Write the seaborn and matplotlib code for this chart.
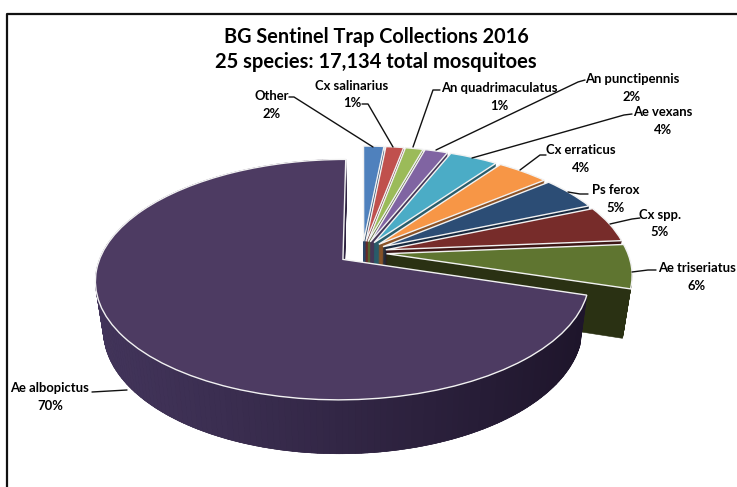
import numpy as np
import matplotlib
matplotlib.use("Agg")
import matplotlib.pyplot as plt
from matplotlib.transforms import Transform
from matplotlib.path import Path
from matplotlib.collections import PolyCollection
from matplotlib.colors import to_rgb
import seaborn as sns

# ---- data
species = ["Other", "Cx salinarius", "An quadrimaculatus", "An punctipennis", "Ae vexans",
           "Cx erraticus", "Ps ferox", "Cx spp.", "Ae triseriatus", "Ae albopictus"]
percent = [1.6, 1.4, 1.4, 1.8, 3.8, 4.1, 4.6, 5.0, 6.0, 70.3]
title_lines = ["BG Sentinel Trap Collections 2016", "25 species: 17,134 total mosquitoes"]

# ---- styles
top_hex = ["#4f81bd", "#c0504d", "#9bbb59", "#8064a2", "#4bacc6",
           "#f79646", "#2c4d75", "#772c2a", "#5f7530", "#4d3b62"]
side_hex = ["#2a4566", "#682b29", "#536432", "#453657", "#285c6a",
            "#8a5227", "#18293f", "#3d1615", "#2a3113", "#2e2340"]
explode_amt = [0.10] * 10
PX, PY, RX, RY, K, H, SHRINK = 362.5, 252.5, 241, 114.5, 1 / 6, 48, 0.03
LAYERS = 50

# label layout in pixels: (name centre x, name y, percent centre x, percent y), leader polyline
label_pos = [(272, 96, 272, 114), (352, 86, 352, 103), (499, 88, 499, 106), (632, 79, 632, 97),
             (663, 112, 663, 130), (581, 150, 581, 168), (616, 190, 616, 208), (660, 215, 660, 232),
             (697, 268, 697, 286), (50, 388, 50, 406)]
leaders = [[(289, 97), (294, 97), (373, 147)], [(362, 104), (368, 104), (393, 147)],
           [(440, 90), (433, 90), (413, 147)], [(585, 80), (578, 82), (436, 150)],
           [(632, 114), (624, 115), (472, 158)], [(546, 155), (540, 155), (520, 170)],
           [(588, 194), (580, 194), (568, 192)], [(640, 218), (632, 219), (610, 224)],
           [(656, 270), (648, 270), (632, 272)], [(92, 392), (127, 390)]]


def project(uv, t):
    uv = np.asarray(uv, dtype=float)
    u, v = uv[..., 0], uv[..., 1]
    w = 1 + K * v
    s = 1 - SHRINK * t
    return np.stack([PX + RX * u * s / w, PY + (-RY * v * s + H * t) / w], axis=-1)


class Persp(Transform):
    input_dims = output_dims = 2
    is_affine = False
    has_inverse = False

    def __init__(self, t):
        super().__init__()
        self.t = t

    def transform_non_affine(self, values):
        return project(values, self.t)

    def transform_path_non_affine(self, path):
        return Path(project(path.vertices, self.t), path.codes)


sns.set_theme(style="white")
plt.rcParams["font.family"] = ["Lato", "DejaVu Sans"]
fig = plt.figure(figsize=(7.37, 4.87), dpi=100, facecolor="white")
ax = fig.add_axes([0, 0, 1, 1])

pal_top = sns.color_palette(top_hex)
pal_side = sns.color_palette(side_hex)

for layer, t in enumerate(np.linspace(1, 0, LAYERS + 1)):
    is_top = t == 0
    wedges, _ = ax.pie(percent, explode=explode_amt, startangle=90, counterclock=False,
                       colors=pal_top if is_top else pal_side)
    trans = Persp(t) + ax.transData
    for i, wd in enumerate(wedges):
        wd.set_transform(trans)
        wd.set_zorder(i * 100 + layer)
        if is_top:
            wd.set_edgecolor("#f2f2f2")
            wd.set_linewidth(1.0)
        else:
            wd.set_edgecolor(pal_side[i])
            wd.set_linewidth(0.4)

# shaded rim of the large slice
share_before = sum(percent[:-1]) / sum(percent)
th = np.radians(np.linspace(90 - 360 * share_before, 90 - 360, 200))
mid = np.radians(90 - 360 * (share_before + percent[-1] / sum(percent) / 2))
off = explode_amt[-1] * np.array([np.cos(mid), np.sin(mid)])
rim = np.stack([np.cos(th), np.sin(th)], axis=-1) + off
rim_top, rim_bot = project(rim, 0.0), project(rim, 1.0)
polys, cols = [], []
light, dark = np.array(to_rgb("#42345a")), np.array(to_rgb("#1e152b"))
for j in range(len(th) - 1):
    polys.append([rim_top[j], rim_top[j + 1], rim_bot[j + 1], rim_bot[j]])
    f = np.clip((rim_top[j][0] - 95) / 490, 0, 1) ** 1.2
    cols.append(light * (1 - f) + dark * f)
ax.add_collection(PolyCollection(polys, facecolors=cols, edgecolors=cols, linewidths=0.5,
                                 zorder=9 * 100 + LAYERS - 0.5))

ax.set_aspect("auto")
ax.set_frame_on(False)
ax.set_xlim(0, 737)
ax.set_ylim(487, 0)

for name, pct, pos, line in zip(species, percent, label_pos, leaders):
    ax.text(pos[0], pos[1], name, ha="center", va="center", fontsize=9.4, fontweight="bold",
            color="black", zorder=2000)
    ax.text(pos[2], pos[3], f"{pct:.0f}%", ha="center", va="center", fontsize=9.4, fontweight="bold",
            color="black", zorder=2000)
    xs, ys = zip(*line)
    ax.plot(xs, ys, color="#111111", lw=1.0, zorder=1500)

ax.text(376, 37, title_lines[0], ha="center", va="center", fontsize=14.3, fontweight="bold",
        color="black", zorder=2000)
ax.text(376, 62, title_lines[1], ha="center", va="center", fontsize=14.5, fontweight="bold",
        color="black", zorder=2000)
ax.plot([7, 7, 737], [487, 14, 14], color="#111111", lw=1.6, zorder=2000)

fig.savefig("out.png", dpi=100)
